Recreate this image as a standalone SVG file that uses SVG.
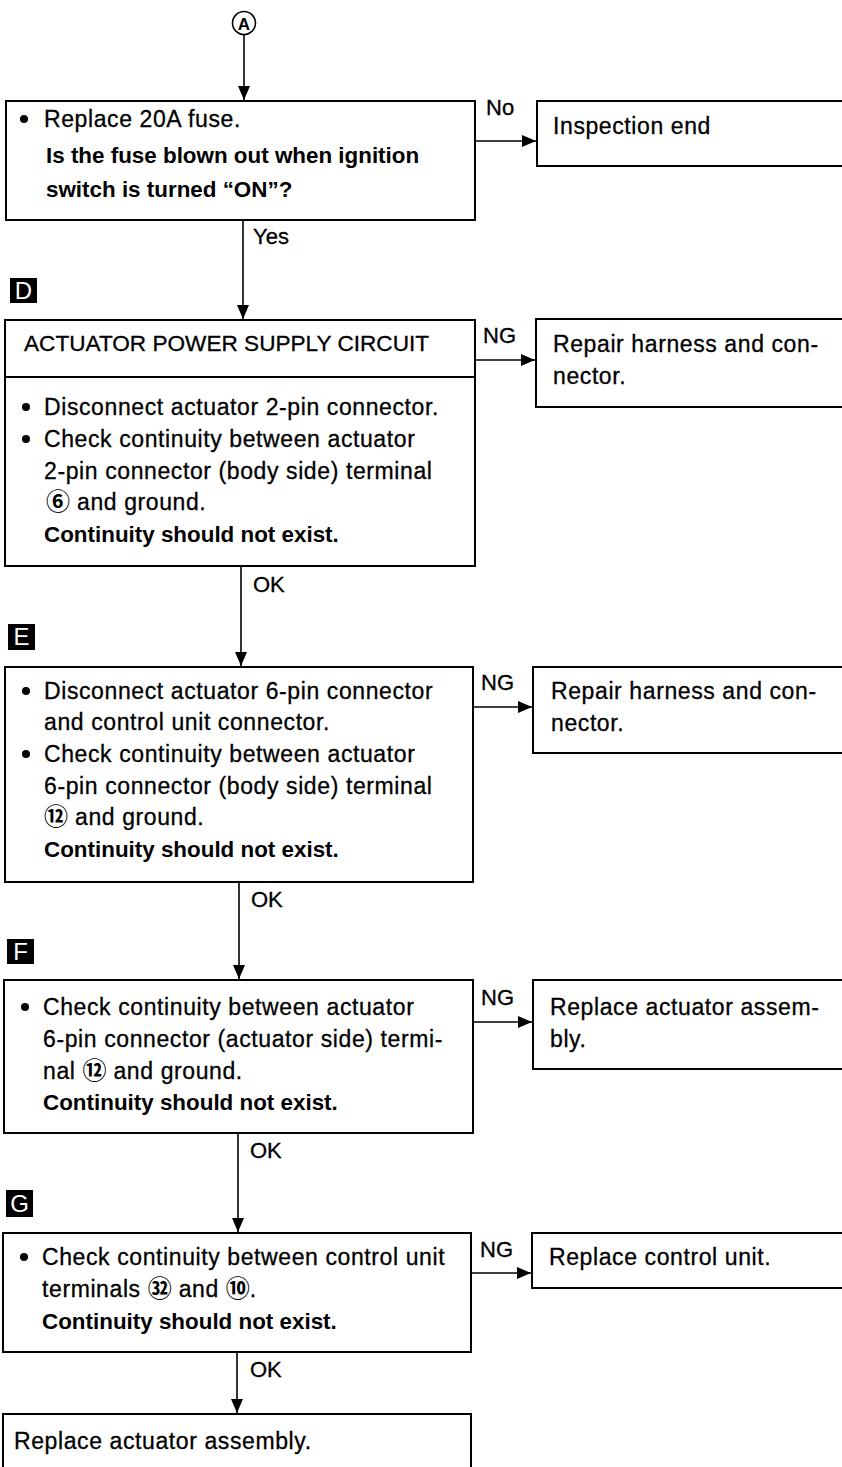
<svg xmlns="http://www.w3.org/2000/svg" width="842" height="1467" viewBox="0 0 842 1467">
<style>
  .box { fill: #ffffff; stroke: #000000; stroke-width: 2; }
  .ln { fill: none; stroke: #000000; stroke-width: 1.6; }
  .t { font-family: "Liberation Sans", Arial, sans-serif; font-size: 23px; letter-spacing: 0.6px; fill: #000000; stroke: #000000; stroke-width: 0.3px; }
  .b { font-family: "Liberation Sans", Arial, sans-serif; font-size: 22.4px; font-weight: bold; fill: #000000; }
  .h { font-family: "Liberation Sans", Arial, sans-serif; font-size: 22.6px; fill: #000000; stroke: #000000; stroke-width: 0.3px; }
  .lbl { font-family: "Liberation Sans", Arial, sans-serif; font-size: 22px; fill: #000000; stroke: #000000; stroke-width: 0.3px; }
  .cn { font-family: "Noto Sans CJK JP", "DejaVu Sans", sans-serif; font-size: 24px; font-weight: bold; letter-spacing: 0; stroke-width: 0; }
  .tag { fill: #000000; }
  .tagt { font-family: "Liberation Sans", Arial, sans-serif; font-size: 24px; fill: #ffffff; text-anchor: middle; }
  .dot { fill: #000000; }
</style>
<defs>
  <marker id="ah" viewBox="0 0 14 12" refX="14" refY="6" markerWidth="14" markerHeight="12" markerUnits="userSpaceOnUse" orient="auto">
    <path d="M0,0 L14,6 L0,12 z" fill="#000000"/>
  </marker>
</defs>

<g id="connectors">
  <line class="ln" x1="244" y1="35" x2="244" y2="100" marker-end="url(#ah)"/>
  <line class="ln" x1="475" y1="141" x2="536" y2="141" marker-end="url(#ah)"/>
  <line class="ln" x1="243" y1="220" x2="243" y2="319" marker-end="url(#ah)"/>
  <line class="ln" x1="475" y1="360" x2="535" y2="360" marker-end="url(#ah)"/>
  <line class="ln" x1="241" y1="566" x2="241" y2="666" marker-end="url(#ah)"/>
  <line class="ln" x1="473" y1="707" x2="532" y2="707" marker-end="url(#ah)"/>
  <line class="ln" x1="239" y1="882" x2="239" y2="979" marker-end="url(#ah)"/>
  <line class="ln" x1="473" y1="1022" x2="532" y2="1022" marker-end="url(#ah)"/>
  <line class="ln" x1="238" y1="1133" x2="238" y2="1232" marker-end="url(#ah)"/>
  <line class="ln" x1="471" y1="1273" x2="531" y2="1273" marker-end="url(#ah)"/>
  <line class="ln" x1="237" y1="1352" x2="237" y2="1413" marker-end="url(#ah)"/>
  <text class="lbl" x="486" y="115">No</text>
  <text class="lbl" x="253" y="244">Yes</text>
  <text class="lbl" x="483" y="343">NG</text>
  <text class="lbl" x="253" y="592">OK</text>
  <text class="lbl" x="481" y="690">NG</text>
  <text class="lbl" x="251" y="907">OK</text>
  <text class="lbl" x="481" y="1005">NG</text>
  <text class="lbl" x="250" y="1158">OK</text>
  <text class="lbl" x="480" y="1257">NG</text>
  <text class="lbl" x="250" y="1377">OK</text>
</g>

<g id="start-A">
  <circle cx="244" cy="23" r="11.5" fill="#ffffff" stroke="#000000" stroke-width="1.6"/>
  <text x="244" y="29.5" font-family="Liberation Sans, Arial, sans-serif" font-size="17" font-weight="bold" text-anchor="middle">A</text>
</g>

<g id="fuse-check">
  <rect class="box" x="6" y="101" width="469" height="119"/>
  <circle class="dot" cx="24" cy="119" r="4"/>
  <text class="t" x="44" y="127">Replace 20A fuse.</text>
  <text class="b" x="46" y="163">Is the fuse blown out when ignition</text>
  <text class="b" x="46" y="197">switch is turned “ON”?</text>
</g>

<g id="inspection-end">
  <rect class="box" x="537" y="101" width="320" height="65"/>
  <text class="t" x="553" y="134">Inspection end</text>
</g>

<g id="tag-D">
  <rect class="tag" x="10" y="278" width="27" height="25"/>
  <text class="tagt" x="23.5" y="299">D</text>
</g>

<g id="box-D">
  <rect class="box" x="5" y="320" width="470" height="246"/>
  <line x1="5" y1="377" x2="475" y2="377" stroke="#000000" stroke-width="2"/>
  <text class="h" x="24" y="351">ACTUATOR POWER SUPPLY CIRCUIT</text>
  <circle class="dot" cx="26" cy="407" r="4"/>
  <text class="t" x="44" y="415">Disconnect actuator 2-pin connector.</text>
  <circle class="dot" cx="26" cy="439" r="4"/>
  <text class="t" x="44" y="447">Check continuity between actuator</text>
  <text class="t" x="44" y="479">2-pin connector (body side) terminal</text>
  <text class="t" x="46" y="510"><tspan class="cn">⑥</tspan> and ground.</text>
  <text class="b" x="44" y="542">Continuity should not exist.</text>
</g>

<g id="repair-1">
  <rect class="box" x="536" y="319" width="320" height="88"/>
  <text class="t" x="553" y="352">Repair harness and con-</text>
  <text class="t" x="553" y="384">nector.</text>
</g>

<g id="tag-E">
  <rect class="tag" x="8" y="624" width="27" height="26"/>
  <text class="tagt" x="21.5" y="645">E</text>
</g>

<g id="box-E">
  <rect class="box" x="5" y="667" width="468" height="215"/>
  <circle class="dot" cx="26" cy="691" r="4"/>
  <text class="t" x="44" y="699">Disconnect actuator 6-pin connector</text>
  <text class="t" x="44" y="730">and control unit connector.</text>
  <circle class="dot" cx="26" cy="754" r="4"/>
  <text class="t" x="44" y="762">Check continuity between actuator</text>
  <text class="t" x="44" y="794">6-pin connector (body side) terminal</text>
  <text class="t" x="44" y="825"><tspan class="cn">⑫</tspan> and ground.</text>
  <text class="b" x="44" y="857">Continuity should not exist.</text>
</g>

<g id="repair-2">
  <rect class="box" x="533" y="667" width="320" height="86"/>
  <text class="t" x="551" y="699">Repair harness and con-</text>
  <text class="t" x="551" y="731">nector.</text>
</g>

<g id="tag-F">
  <rect class="tag" x="7" y="939" width="27" height="25"/>
  <text class="tagt" x="20.5" y="960">F</text>
</g>

<g id="box-F">
  <rect class="box" x="4" y="980" width="469" height="153"/>
  <circle class="dot" cx="25" cy="1007" r="4"/>
  <text class="t" x="43" y="1015">Check continuity between actuator</text>
  <text class="t" x="43" y="1047">6-pin connector (actuator side) termi-</text>
  <text class="t" x="43" y="1079">nal <tspan class="cn">⑫</tspan> and ground.</text>
  <text class="b" x="43" y="1110">Continuity should not exist.</text>
</g>

<g id="replace-actuator-1">
  <rect class="box" x="533" y="980" width="320" height="89"/>
  <text class="t" x="550" y="1015">Replace actuator assem-</text>
  <text class="t" x="550" y="1047">bly.</text>
</g>

<g id="tag-G">
  <rect class="tag" x="6" y="1190" width="27" height="27"/>
  <text class="tagt" x="19.5" y="1212">G</text>
</g>

<g id="box-G">
  <rect class="box" x="3" y="1233" width="468" height="119"/>
  <circle class="dot" cx="24" cy="1257" r="4"/>
  <text class="t" x="42" y="1265">Check continuity between control unit</text>
  <text class="t" x="42" y="1297">terminals <tspan class="cn">㉜</tspan> and <tspan class="cn">⑩</tspan>.</text>
  <text class="b" x="42" y="1329">Continuity should not exist.</text>
</g>

<g id="replace-control-unit">
  <rect class="box" x="532" y="1233" width="320" height="55"/>
  <text class="t" x="549" y="1265">Replace control unit.</text>
</g>

<g id="replace-actuator-final">
  <rect class="box" x="3" y="1414" width="468" height="80"/>
  <text class="t" x="14" y="1449">Replace actuator assembly.</text>
</g>
</svg>
